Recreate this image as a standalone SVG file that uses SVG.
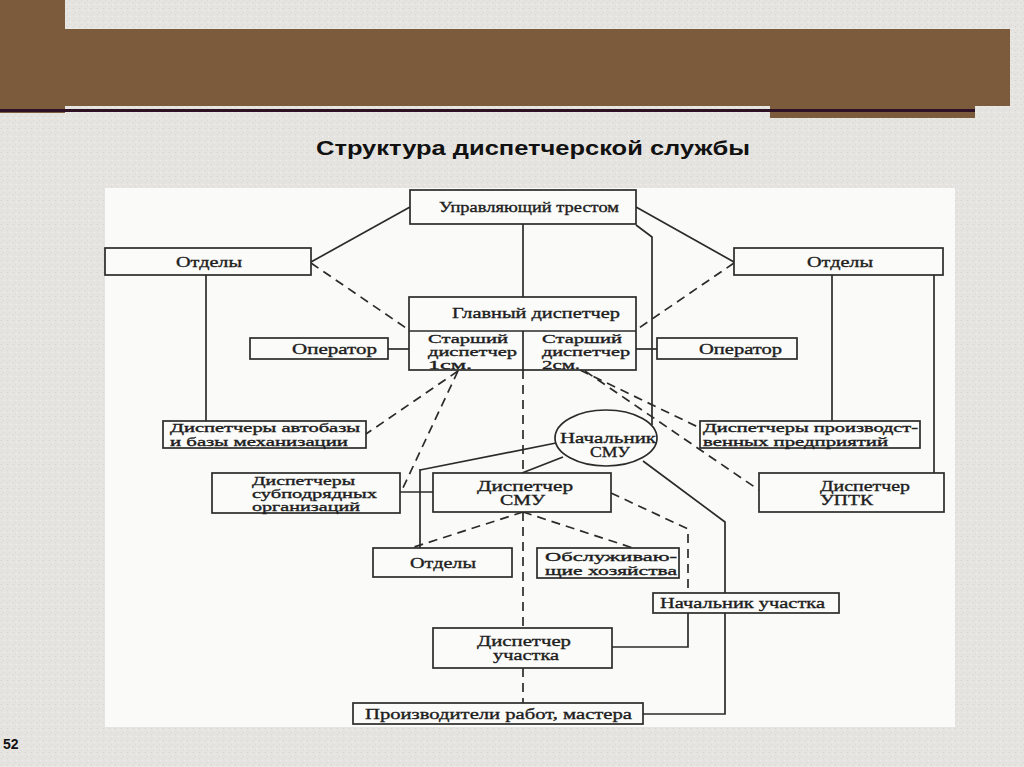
<svg xmlns="http://www.w3.org/2000/svg" width="1024" height="767" viewBox="0 0 1024 767">
<defs>
<style>
.box{fill:#fbfbf9;stroke:#2b2b2b;stroke-width:1.7}
.ln{fill:none;stroke:#2b2b2b;stroke-width:1.7}
.dash{stroke-dasharray:9 6}
.t{font-family:"Liberation Serif","Times New Roman",serif;font-size:15px;fill:#1e1e1e;stroke:#1e1e1e;stroke-width:0.35}
.s{font-size:13px}
.xs{font-size:12px}
</style>
<pattern id="grain" width="6" height="6" patternUnits="userSpaceOnUse">
<rect width="6" height="6" fill="#e6e4e0"/>
<rect x="1" y="2" width="1" height="1" fill="#d4d2cd"/>
<rect x="4" y="4" width="1" height="1" fill="#f3f2ef"/>
<rect x="3" y="0" width="1" height="1" fill="#d9d7d2"/>
</pattern>
</defs>
<rect x="0" y="0" width="1024" height="767" fill="url(#grain)"/>
<!-- header bar -->
<rect x="0" y="0" width="65" height="113" fill="#7b5b3c"/>
<rect x="65" y="29" width="945" height="77" fill="#7b5b3c"/>
<rect x="770" y="106" width="205" height="12" fill="#7b5b3c"/>
<rect x="0" y="109" width="975" height="3" fill="#2e1124"/>
<text x="533" y="155" text-anchor="middle" font-family="Liberation Sans, Arial, sans-serif" font-weight="bold" font-size="21" fill="#111" textLength="434" lengthAdjust="spacingAndGlyphs">Структура диспетчерской службы</text>
<!-- diagram panel -->
<rect x="105" y="188" width="850" height="539" fill="#fafaf8"/>
<g id="connectors">
<path class="ln" d="M410,207 L311,262"/>
<path class="ln" d="M636,207 L734,262"/>
<path class="ln" d="M523,224 V297"/>
<path class="ln" d="M636,225 L652,237 V425"/>
<path class="ln" d="M206,275 V421"/>
<path class="ln" d="M832,275 V421"/>
<path class="ln" d="M934,275 V473"/>
<path class="ln" d="M388,349 H409"/>
<path class="ln" d="M636,349 H657"/>
<path class="ln dash" d="M311,263 L409,330"/>
<path class="ln dash" d="M734,263 L636,330"/>
<path class="ln dash" d="M458,371 L366,434"/>
<path class="ln dash" d="M458,371 L402,490"/>
<path class="ln dash" d="M580,370 L700,428"/>
<path class="ln dash" d="M585,371 L759,490"/>
<path class="ln dash" d="M523,370 V473"/>
<path class="ln dash" d="M523,512 V628"/>
<path class="ln dash" d="M523,668 V703"/>
<path class="ln" d="M556,443 L420,470"/>
<path class="ln" stroke-width="2.6" d="M420,469 V548"/>
<path class="ln" d="M400,492 H433"/>
<path class="ln" d="M563,457 L522,473"/>
<path class="ln dash" d="M523,512 L408,549"/>
<path class="ln dash" d="M523,512 L633,548"/>
<path class="ln dash" d="M611,493 L688,529 V593"/>
<path class="ln" d="M643,461 L725,522 V714 H643"/>
<path class="ln" d="M688,613 V647 H612"/>
</g>
<g id="n-trust">
<rect class="box" x="410" y="190" width="226" height="34"/>
<text class="t" x="439" y="212" textLength="180" lengthAdjust="spacingAndGlyphs">Управляющий трестом</text>
</g>
<g id="n-otdely-left">
<rect class="box" x="105" y="248" width="206" height="27"/>
<text class="t" x="176" y="267" textLength="66" lengthAdjust="spacingAndGlyphs">Отделы</text>
</g>
<g id="n-otdely-right">
<rect class="box" x="734" y="248" width="209" height="27"/>
<text class="t" x="807" y="267" textLength="66" lengthAdjust="spacingAndGlyphs">Отделы</text>
</g>
<g id="n-glavny">
<rect class="box" x="409" y="297" width="227" height="73"/>
<path class="ln" d="M409,331 H636 M523,331 V370"/>
<text class="t" x="452" y="318" textLength="168" lengthAdjust="spacingAndGlyphs">Главный диспетчер</text>
<text class="t s" x="428" y="343" textLength="80" lengthAdjust="spacingAndGlyphs">Старший</text>
<text class="t s" x="428" y="356" textLength="89" lengthAdjust="spacingAndGlyphs">диспетчер</text>
<text class="t s" x="428" y="369" textLength="44" lengthAdjust="spacingAndGlyphs">1см.</text>
<text class="t s" x="542" y="343" textLength="80" lengthAdjust="spacingAndGlyphs">Старший</text>
<text class="t s" x="542" y="356" textLength="88" lengthAdjust="spacingAndGlyphs">диспетчер</text>
<text class="t s" x="542" y="369" textLength="38" lengthAdjust="spacingAndGlyphs">2см.</text>
</g>
<g id="n-operator-left">
<rect class="box" x="250" y="338" width="138" height="21"/>
<text class="t" x="292" y="354" textLength="85" lengthAdjust="spacingAndGlyphs">Оператор</text>
</g>
<g id="n-operator-right">
<rect class="box" x="657" y="338" width="140" height="21"/>
<text class="t" x="699" y="354" textLength="83" lengthAdjust="spacingAndGlyphs">Оператор</text>
</g>
<g id="n-avtobaza">
<rect class="box" x="163" y="421" width="203" height="27"/>
<text class="t xs" x="170" y="432" textLength="190" lengthAdjust="spacingAndGlyphs">Диспетчеры автобазы</text>
<text class="t xs" x="170" y="446" textLength="178" lengthAdjust="spacingAndGlyphs">и базы механизации</text>
</g>
<g id="n-subpodr">
<rect class="box" x="212" y="473" width="188" height="40"/>
<text class="t s" x="252" y="485" textLength="103" lengthAdjust="spacingAndGlyphs">Диспетчеры</text>
<text class="t s" x="252" y="498" textLength="125" lengthAdjust="spacingAndGlyphs">субподрядных</text>
<text class="t s" x="252" y="511" textLength="108" lengthAdjust="spacingAndGlyphs">организаций</text>
</g>
<g id="n-nachalnik-smu">
<ellipse cx="606" cy="438" rx="51" ry="28" fill="#fbfbf9" stroke="#2b2b2b" stroke-width="1.7"/>
<text class="t" x="560" y="443" textLength="96" lengthAdjust="spacingAndGlyphs">Начальник</text>
<text class="t" x="590" y="457" textLength="40" lengthAdjust="spacingAndGlyphs">СМУ</text>
</g>
<g id="n-disp-smu">
<rect class="box" x="433" y="473" width="178" height="39"/>
<text class="t" x="477" y="491" textLength="96" lengthAdjust="spacingAndGlyphs">Диспетчер</text>
<text class="t" x="500" y="505" textLength="45" lengthAdjust="spacingAndGlyphs">СМУ</text>
</g>
<g id="n-proizv">
<rect class="box" x="700" y="421" width="220" height="27"/>
<text class="t xs" x="703" y="432" textLength="215" lengthAdjust="spacingAndGlyphs">Диспетчеры производст-</text>
<text class="t xs" x="703" y="446" textLength="185" lengthAdjust="spacingAndGlyphs">венных предприятий</text>
</g>
<g id="n-uptk">
<rect class="box" x="759" y="473" width="185" height="39"/>
<text class="t" x="820" y="491" textLength="90" lengthAdjust="spacingAndGlyphs">Диспетчер</text>
<text class="t" x="820" y="505" textLength="53" lengthAdjust="spacingAndGlyphs">УПТК</text>
</g>
<g id="n-otdely-bottom">
<rect class="box" x="373" y="548" width="139" height="29"/>
<text class="t" x="410" y="568" textLength="66" lengthAdjust="spacingAndGlyphs">Отделы</text>
</g>
<g id="n-obsl">
<rect class="box" x="537" y="548" width="142" height="30"/>
<text class="t s" x="545" y="561" textLength="132" lengthAdjust="spacingAndGlyphs">Обслуживаю-</text>
<text class="t s" x="545" y="575" textLength="132" lengthAdjust="spacingAndGlyphs">щие хозяйства</text>
</g>
<g id="n-nach-uch">
<rect class="box" x="653" y="593" width="186" height="20"/>
<text class="t" x="660" y="608" textLength="165" lengthAdjust="spacingAndGlyphs">Начальник участка</text>
</g>
<g id="n-disp-uch">
<rect class="box" x="433" y="628" width="179" height="40"/>
<text class="t" x="477" y="646" textLength="94" lengthAdjust="spacingAndGlyphs">Диспетчер</text>
<text class="t" x="493" y="660" textLength="66" lengthAdjust="spacingAndGlyphs">участка</text>
</g>
<g id="n-proizvoditeli">
<rect class="box" x="353" y="703" width="290" height="21"/>
<text class="t" x="365" y="719" textLength="267" lengthAdjust="spacingAndGlyphs">Производители работ, мастера</text>
</g>
<text x="3" y="749" font-family="Liberation Sans, Arial, sans-serif" font-weight="bold" font-size="14" fill="#111">52</text>
</svg>
